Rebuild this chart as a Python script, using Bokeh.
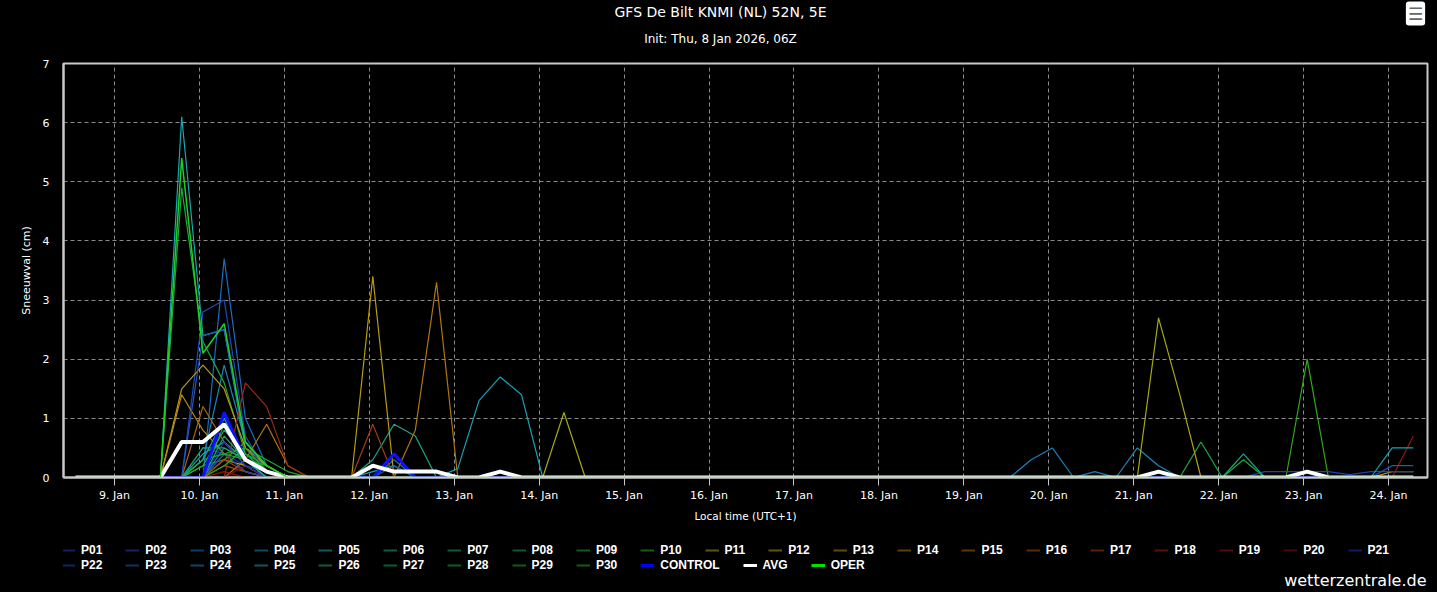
from bokeh.plotting import figure
from bokeh.layouts import column
from bokeh.models import Range1d, FixedTicker, Legend, LegendItem, ColumnDataSource, Label
from bokeh.embed import file_html
from bokeh.resources import INLINE

# ---------------- data ----------------
# lead times (hours after init 8 Jan 2026 06Z), 6-hourly steps
lead_hours = list(range(6, 385, 6))
n_steps = len(lead_hours)

# x tick positions: local midnight (UTC+1) of 9..24 Jan, in lead hours
tick_labels = ["9. Jan", "10. Jan", "11. Jan", "12. Jan", "13. Jan", "14. Jan", "15. Jan", "16. Jan",
               "17. Jan", "18. Jan", "19. Jan", "20. Jan", "21. Jan", "22. Jan", "23. Jan", "24. Jan"]
tick_hours = [17, 41, 65, 89, 113, 137, 161, 185, 209, 233, 257, 281, 305, 329, 353, 377]

y_ticks = [0, 1, 2, 3, 4, 5, 6, 7]

# snowfall (cm) per step index (non-zero steps only)
P01 = {6: 0.5, 7: 0.4, 8: 0.2, 9: 0.1}
P02 = {6: 2.8, 7: 3.0, 8: 0.7, 9: 0.1}
P03 = {7: 3.7, 8: 1.0, 9: 0.2, 15: 0.3}
P04 = {6: 0.3, 7: 1.9, 8: 0.6, 9: 0.2, 50: 0.5, 51: 0.2}
P05 = {5: 6.1, 6: 2.4, 7: 2.5, 8: 0.5, 9: 0.1, 14: 0.1, 15: 0.2}
P06 = {6: 0.4, 7: 0.6, 8: 0.3, 9: 0.1, 14: 0.3, 15: 0.9, 16: 0.7}
P07 = {6: 0.2, 7: 0.8, 8: 0.4, 9: 0.2}
P08 = {5: 4.9, 6: 2.3, 7: 1.6, 8: 0.4, 9: 0.1, 53: 0.6}
P09 = {7: 0.4, 8: 0.5, 9: 0.3, 10: 0.1, 55: 0.3}
P10 = {6: 0.2, 7: 0.3, 8: 0.6, 9: 0.2, 58: 2.0}
P11 = {7: 0.3, 8: 0.2, 23: 1.1, 51: 2.7, 52: 1.4}
P12 = {5: 1.5, 6: 1.9, 7: 1.5, 8: 0.5, 9: 0.2, 14: 3.4}
P13 = {5: 1.4, 6: 0.8, 7: 0.4, 8: 0.1, 62: 0.1, 63: 0.1}
P14 = {8: 0.3, 9: 0.9, 10: 0.2, 16: 0.8, 17: 3.3}
P15 = {6: 1.2, 7: 0.6, 8: 0.2}
P16 = {7: 0.2, 8: 0.1}
P17 = {7: 0.3, 8: 0.1, 14: 0.9}
P18 = {8: 1.6, 9: 1.2, 10: 0.2}
P19 = {7: 0.1, 63: 0.7}
P20 = {8: 0.2}
P21 = {7: 0.6, 8: 0.2}
P22 = {7: 0.4, 8: 0.1, 56: 0.1, 57: 0.1, 58: 0.1, 59: 0.1, 60: 0.05, 61: 0.1, 62: 0.1, 63: 0.1}
P23 = {6: 2.4, 7: 2.5, 8: 0.6, 9: 0.1, 15: 0.2, 62: 0.2, 63: 0.2}
P24 = {7: 0.5, 8: 0.3, 45: 0.3, 46: 0.5, 48: 0.1}
P25 = {6: 0.3, 7: 1.0, 8: 0.3, 18: 0.15, 19: 1.3, 20: 1.7, 21: 1.4, 62: 0.5, 63: 0.5}
P26 = {7: 0.7, 8: 0.3, 55: 0.4}
P27 = {6: 0.5, 7: 0.5, 8: 0.3, 9: 0.1}
P28 = {7: 0.9, 8: 0.4, 9: 0.1}
P29 = {6: 0.3, 7: 0.4, 8: 0.3, 9: 0.2}
P30 = {7: 0.2, 8: 0.5, 9: 0.1}
CONTROL = {7: 1.1, 8: 0.3, 9: 0.1, 15: 0.4}
AVG = {5: 0.6, 6: 0.6, 7: 0.9, 8: 0.3, 9: 0.1, 14: 0.2, 15: 0.1, 16: 0.1, 17: 0.1,
       20: 0.1, 51: 0.1, 58: 0.1}
OPER = {5: 5.4, 6: 2.1, 7: 2.6, 8: 0.6, 9: 0.2}

members = [P01, P02, P03, P04, P05, P06, P07, P08, P09, P10,
           P11, P12, P13, P14, P15, P16, P17, P18, P19, P20,
           P21, P22, P23, P24, P25, P26, P27, P28, P29, P30]
member_names = ["P%02d" % (k + 1) for k in range(30)]

TITLE = "GFS De Bilt KNMI (NL) 52N, 5E"
SUBTITLE = "Init: Thu, 8 Jan 2026, 06Z"
X_LABEL = "Local time (UTC+1)"
Y_LABEL = "Sneeuwval (cm)"
CREDIT = "wetterzentrale.de"

# ---------------- styles ----------------
member_colors = ["#2338b8", "#2048b8", "#1a6cc0", "#1888b8", "#18a8b0",
                 "#18a888", "#18a868", "#1aa848", "#20a828", "#34a818",
                 "#a8a810", "#b89a10", "#b88a10", "#b07410", "#a86410",
                 "#a05210", "#a03e10", "#982a12", "#901a12", "#881010",
                 "#2030b8", "#2040b8", "#2058b8", "#1880b8", "#18a0b8",
                 "#18a880", "#18a864", "#1aa84c", "#20a830", "#2aa81e"]


def dim(c, f=0.55):
    r, g, b = int(c[1:3], 16), int(c[3:5], 16), int(c[5:7], 16)
    return "#%02x%02x%02x" % (int(r * f), int(g * f), int(b * f))


def expand(d):
    return [d.get(i, 0.0) for i in range(n_steps)]


FONT = "DejaVu Sans"
NAN = float("nan")
W = 1437
H_TOP = 55
H_MAIN = 469
H_LEG = 592 - H_TOP - H_MAIN
FRAME_LEFT = 63


def strip(height):
    f = figure(width=W, height=height, output_backend="svg", toolbar_location=None,
               x_range=Range1d(0, 1), y_range=Range1d(0, 1),
               x_axis_location=None, y_axis_location=None,
               background_fill_color="black", border_fill_color="black",
               min_border_left=0, min_border_right=0, min_border_top=0, min_border_bottom=0)
    f.outline_line_color = None
    f.xgrid.visible = False
    f.ygrid.visible = False
    return f


# ---------------- title strip ----------------
top = strip(H_TOP)
top.add_layout(Label(x=720 - FRAME_LEFT, y=H_TOP - 11, x_units="screen", y_units="screen",
                     text=TITLE, text_align="center", text_baseline="middle", text_color="white",
                     text_font=FONT, text_font_size="14px"))
top.add_layout(Label(x=720 - FRAME_LEFT, y=H_TOP - 38, x_units="screen", y_units="screen",
                     text=SUBTITLE, text_align="center", text_baseline="middle", text_color="white",
                     text_font=FONT, text_font_size="12px"))
# export-menu button (top right)
try:
    menu = Label(x=1415 - FRAME_LEFT, y=H_TOP - 13, x_units="screen", y_units="screen",
                 text="\u2630", text_align="center", text_baseline="middle", text_color="#666666",
                 text_font=FONT, text_font_size="17px", background_fill_color="white",
                 padding=2, border_radius=3)
except Exception:
    menu = Label(x=1415 - FRAME_LEFT, y=H_TOP - 13, x_units="screen", y_units="screen",
                 text="\u2630", text_align="center", text_baseline="middle", text_color="#666666",
                 text_font=FONT, text_font_size="17px", background_fill_color="white")
top.add_layout(menu)

# ---------------- chart ----------------
p = figure(width=W, height=H_MAIN, output_backend="svg", toolbar_location=None,
           x_range=Range1d(2.6, 388), y_range=Range1d(0, 7),
           background_fill_color="black", border_fill_color="black",
           min_border_left=FRAME_LEFT, min_border_right=10, min_border_top=8, min_border_bottom=45)
p.outline_line_color = "#c8c8c8"
p.outline_line_width = 2

# grids
p.xgrid.ticker = FixedTicker(ticks=tick_hours)
p.ygrid.ticker = FixedTicker(ticks=y_ticks)
for g in (p.xgrid[0], p.ygrid[0]):
    g.grid_line_color = "#8a8a8a"
    g.grid_line_dash = "4 3"
    g.grid_line_width = 1

# x axis
xa = p.xaxis[0]
xa.ticker = FixedTicker(ticks=tick_hours)
xa.major_label_overrides = {h: lab for h, lab in zip(tick_hours, tick_labels)}
xa.major_tick_out = 8
xa.major_tick_in = 0
xa.minor_tick_out = 0
xa.minor_tick_in = 0
xa.major_tick_line_color = "#c8c8c8"
xa.axis_line_color = "#c8c8c8"
xa.axis_line_width = 2
xa.major_label_text_color = "white"
xa.major_label_text_font = FONT
xa.major_label_text_font_size = "11px"
xa.major_label_standoff = 3
xa.axis_label = X_LABEL
xa.axis_label_text_color = "white"
xa.axis_label_text_font = FONT
xa.axis_label_text_font_size = "10.5px"
xa.axis_label_text_font_style = "normal"
xa.axis_label_standoff = 5

# y axis
ya = p.yaxis[0]
ya.ticker = FixedTicker(ticks=y_ticks)
ya.major_tick_out = 0
ya.major_tick_in = 0
ya.minor_tick_out = 0
ya.minor_tick_in = 0
ya.axis_line_color = "#c8c8c8"
ya.axis_line_width = 2
ya.major_label_text_color = "white"
ya.major_label_text_font = FONT
ya.major_label_text_font_size = "11px"
ya.major_label_standoff = 14
ya.axis_label = Y_LABEL
ya.axis_label_text_color = "white"
ya.axis_label_text_font = FONT
ya.axis_label_text_font_size = "11px"
ya.axis_label_text_font_style = "normal"
ya.axis_label_standoff = 7

# ---------------- legend strip ----------------
q = strip(H_LEG)

legend_items = []
for name, d, col in zip(member_names, members, member_colors):
    src = ColumnDataSource(dict(x=lead_hours, y=expand(d)))
    p.line("x", "y", source=src, line_color=col, line_width=1.2)
    dummy = q.line([NAN, NAN], [NAN, NAN], line_color=dim(col), line_width=2)
    legend_items.append(LegendItem(label=name, renderers=[dummy]))

specials = [("CONTROL", CONTROL, "#1010ff", 3, "#0000ff"),
            ("AVG", AVG, "#ffffff", 4, "#ffffff"),
            ("OPER", OPER, "#20d020", 1.5, "#00e000")]
for name, d, col, w, lcol in specials:
    src = ColumnDataSource(dict(x=lead_hours, y=expand(d)))
    p.line("x", "y", source=src, line_color=col, line_width=w)
    dummy = q.line([NAN, NAN], [NAN, NAN], line_color=lcol, line_width=3)
    legend_items.append(LegendItem(label=name, renderers=[dummy]))


def make_legend(items, loc):
    return Legend(items=items, orientation="horizontal", location=loc,
                  glyph_width=14, glyph_height=12, label_standoff=6, spacing=23,
                  label_text_font="Liberation Sans", label_text_font_style="bold",
                  label_text_font_size="12px", label_text_color="white",
                  label_height=12, padding=0, margin=0,
                  background_fill_alpha=0, border_line_alpha=0)


# strip frames are aligned with the chart frame (they start at x = FRAME_LEFT)
q.add_layout(make_legend(legend_items[:21], (61 - FRAME_LEFT, 35)), "center")
q.add_layout(make_legend(legend_items[21:], (61 - FRAME_LEFT, 20)), "center")

q.add_layout(Label(x=1426 - FRAME_LEFT, y=12, x_units="screen", y_units="screen", text=CREDIT,
                   text_align="right", text_baseline="middle", text_color="white",
                   text_font=FONT, text_font_size="16px"))

layout = column(top, p, q, spacing=0)

try:
    from bokeh.models import GlobalInlineStyleSheet
    layout.stylesheets = [GlobalInlineStyleSheet(css="html, body { background: #000000; }")]
except Exception:
    pass

open("out.html", "w").write(file_html(layout, INLINE))
